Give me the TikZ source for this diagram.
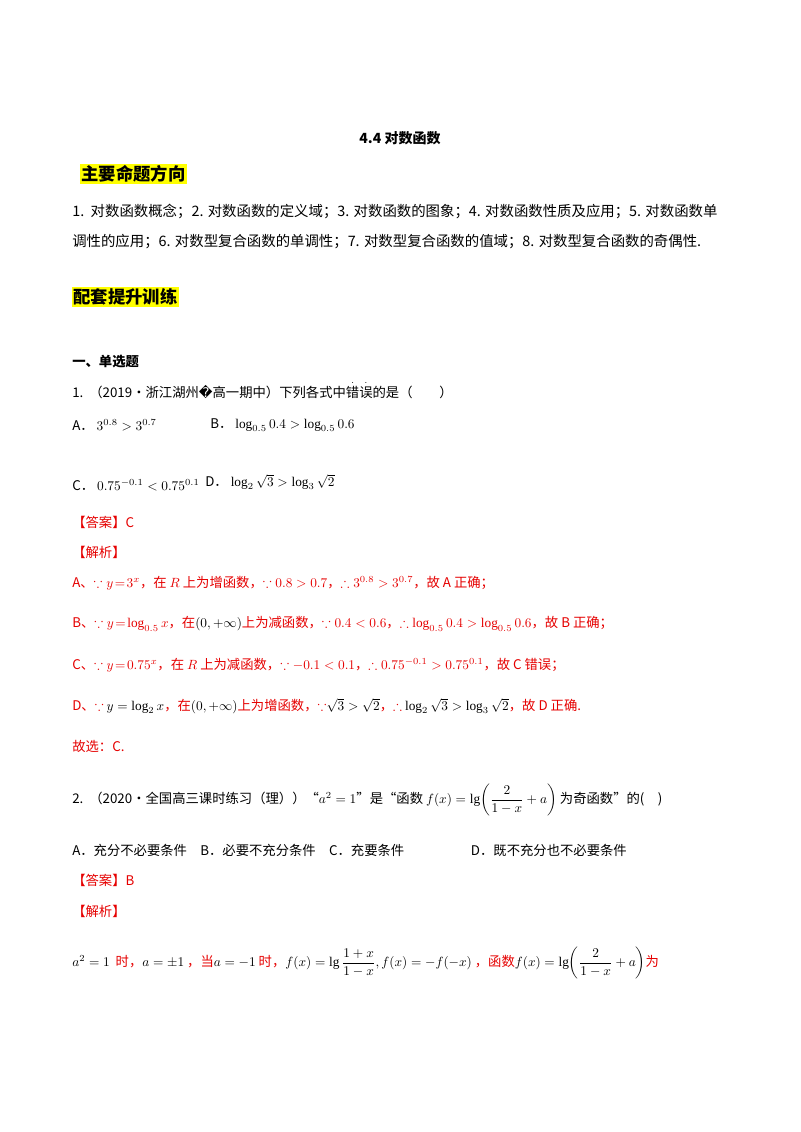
\documentclass[tikz,border=0pt]{standalone}
\usepackage{fontspec}
\usepackage{amsmath,amssymb}
\setmainfont{Liberation Serif}
\newfontfamily\cjk{Noto Sans CJK SC}
\newfontfamily\djv{DejaVu Sans}
\definecolor{hl}{RGB}{255,255,0}
\definecolor{rd}{RGB}{230,0,0}
\begin{document}
\begin{tikzpicture}[x=0.75pt,y=-0.75pt,
  txt/.style={anchor=west,inner sep=0pt,font=\cjk\fontsize{10}{12}\selectfont},
  red/.style={txt,text=rd},
  head/.style={anchor=west,inner sep=1pt,fill=hl,font=\cjk\bfseries\fontsize{13}{15}\selectfont}]
\useasboundingbox (0,0) rectangle (800,1132);
\fill[white] (0,0) rectangle (800,1132);
\node[txt,anchor=center,font=\cjk\bfseries\fontsize{10.5}{12}\selectfont] (title) at (400,138) {4.4 对数函数};
\node[head] (h1) at (80,174) {主要命题方向};
\node[txt,font=\cjk\fontsize{10.8}{12}\selectfont] (l1) at (72,211) {1.\ \ 对数函数概念；2. 对数函数的定义域；3. 对数函数的图象；4. 对数函数性质及应用；5. 对数函数单};
\node[txt,font=\cjk\fontsize{10.8}{12}\selectfont] (l2) at (72,242) {调性的应用；6. 对数型复合函数的单调性；7. 对数型复合函数的值域；8. 对数型复合函数的奇偶性.};
\node[head] (h2) at (72,297) {配套提升训练};
\node[txt,font=\cjk\bfseries\fontsize{10}{12}\selectfont] (s1) at (72,362) {一、单选题};
\node[txt] (q1) at (72,390) {1.\ \ （2019·浙江湖州{\djv �}高一期中）下列各式中$\overset{.}{\text{错}}\overset{.}{\text{误}}$的是（\qquad ）};
\node[txt] (qa) at (72,425) {A．\ $3^{0.8}>3^{0.7}$};
\node[txt] (qb) at (210,425) {B．\ $\log_{0.5}0.4>\log_{0.5}0.6$};
\node[txt] (qc) at (72,485) {C．\ $0.75^{-0.1}<0.75^{0.1}$};
\node[txt] (qd) at (205,482) {D．\ $\log_2\sqrt3>\log_3\sqrt2$};
\node[red] (ans1) at (72,522) {【答案】C};
\node[red] (jx1) at (72,552) {【解析】};
\node[red] (ra) at (72,583) {A、$\because y\!=\!3^x$，在 $R$ 上为增函数，$\because0.8>0.7$，$\therefore3^{0.8}>3^{0.7}$，故 A 正确；};
\node[red] (rb) at (72,624) {B、$\because y\!=\!\log_{0.5}x$，在\textcolor{black}{$(0,+\infty)$}上为减函数，$\because0.4<0.6$，$\therefore\log_{0.5}0.4>\log_{0.5}0.6$，故 B 正确；};
\node[red] (rc) at (72,665) {C、$\because y\!=\!0.75^x$，在 $R$ 上为减函数，$\because -0.1<0.1$，$\therefore0.75^{-0.1}>0.75^{0.1}$，故 C 错误；};
\node[red] (rd) at (72,706) {D、$\because$ \textcolor{black}{$y=\log_2x$}，在\textcolor{black}{$(0,+\infty)$}上为增函数，$\because$\textcolor{black}{$\sqrt3>\sqrt2$}，$\therefore$ \textcolor{black}{$\log_2\sqrt3>\log_3\sqrt2$}，故 D 正确.};
\node[red] (gx) at (72,746) {故选：C.};
\node[txt] (q2) at (72,800) {2.\ \ （2020·全国高三课时练习（理））“$a^2=1$”是“函数 $f(x)=\lg\!\left(\dfrac{2}{1-x}+a\right)$ 为奇函数”的(\quad )};
\node[txt] (q2o) at (72,850) {A．充分不必要条件\quad B．必要不充分条件\quad C．充要条件\qquad\qquad\quad D．既不充分也不必要条件};
\node[red] (ans2) at (72,880) {【答案】B};
\node[red] (jx2) at (72,911) {【解析】};
\node[red] (last) at (72,963) {\textcolor{black}{$a^2=1$}\ \ 时，\textcolor{black}{$a=\pm1$}\ ，当\textcolor{black}{$a=-1$}\ 时，\textcolor{black}{$f(x)=\lg\dfrac{1+x}{1-x},f(x)=-f(-x)$}\ ，函数\textcolor{black}{$f(x)=\lg\!\left(\dfrac{2}{1-x}+a\right)$}为};
\end{tikzpicture}
\end{document}
